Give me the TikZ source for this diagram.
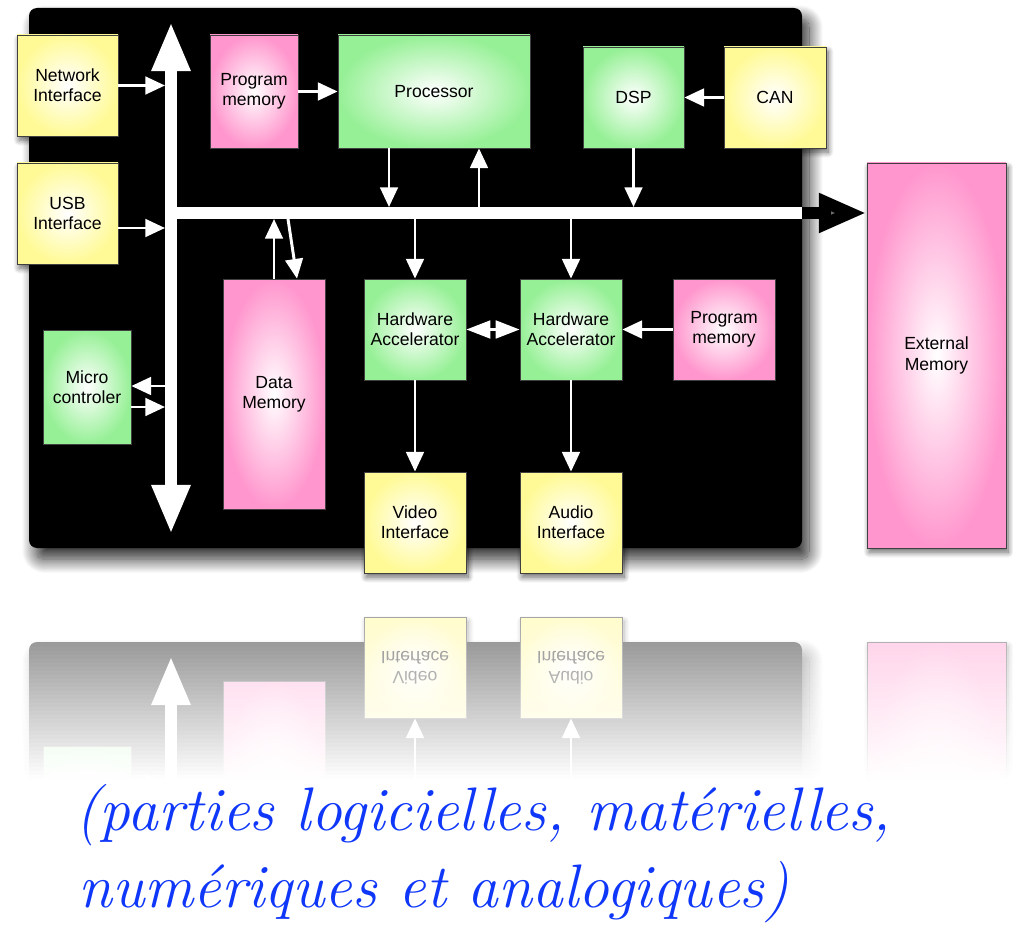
\documentclass[tikz,border=0pt]{standalone}
\usepackage{fontspec}
\usetikzlibrary{arrows.meta,shadows.blur}
\newfontfamily\boxfont{Liberation Sans}
\definecolor{boxgreen}{RGB}{150,240,150}
\definecolor{boxyellow}{RGB}{255,250,150}
\definecolor{boxpink}{RGB}{255,150,205}
\definecolor{inkblue}{RGB}{15,55,250}
\def\px{0.025cm}
\newif\iftoprow
\toprowtrue

\tikzset{
  unit/.style={draw=black!75, line width=0.5pt, align=center, inner sep=0pt,
    font=\boxfont\fontsize{12.5}{14.5}\selectfont,
    blur shadow={shadow xshift=1.5pt, shadow yshift=-3pt, shadow blur radius=4pt,
      shadow blur steps=10, shadow opacity=60}},
  sz/.style 2 args={minimum width=#1*\px, minimum height=#2*\px},
  logic/.style={unit, inner color=white, outer color=boxgreen},
  port/.style={unit, inner color=white, outer color=boxyellow},
  mem/.style={unit, inner color=white, outer color=boxpink},
  link/.style={draw=white, line width=2.1pt, -{Triangle[length=14pt,width=12.5pt]}},
  bus/.style={draw=white, line width=8.5pt},
  caption/.style={anchor=base west, inner sep=0pt, text=inkblue,
    font=\fontsize{43.7}{50}\selectfont\itshape},
}

% the whole board, drawn once upright and once as its mirror image
\newcommand\socboard{%
  \fill[rounded corners=5.7pt,
    blur shadow={shadow xshift=5pt, shadow yshift=-8pt, shadow blur radius=10pt,
      shadow blur steps=20, shadow opacity=85}]
    (29,8) rectangle (802,548);
  \coordinate (vtop) at (171,22);
  \coordinate (vbot) at (171,534);
  \coordinate (hleft) at (171,213);
  \coordinate (hend) at (802,213);
  \coordinate (hbt) at (0,207);
  \coordinate (hbb) at (0,219);
  \coordinate (vbl) at (165,0);
  % buses
  \draw[bus, {Triangle[length=35pt,width=25.6pt]}-{Triangle[length=35pt,width=25.6pt]}] (vtop) -- (vbot);
  \draw[bus] (hleft) -- (hend);
  % top row (left out of the mirror image, it falls off the page there)
  \iftoprow
  \node[port, sz={101}{101}] (netif) at (67.5,85.5) {Network\\Interface};
  \node[port, sz={101}{101}] (usbif) at (67.5,213.5) {USB\\Interface};
  \node[mem, sz={88}{113}] (progmem) at (254,91.5) {Program\\memory};
  \node[logic, sz={192}{113}] (cpu) at (434,91.5) {Processor};
  \node[logic, sz={101}{101}] (dsp) at (633.5,97.5) {DSP};
  \node[port, sz={102}{101}] (can) at (775,97.5) {CAN};
  \draw[link] (netif.east) -- (netif.east -| vbl);
  \draw[link] (usbif.east |- 0,228) -- (vbl |- 0,228);
  \draw[link] (progmem) -- (cpu);
  \draw[link] (can) -- (dsp);
  \draw[link] (389,0 |- cpu.south) -- (389,0 |- hbt);
  \draw[link] (479,0 |- hbt) -- (479,0 |- cpu.south);
  \draw[link] (dsp.south) -- (dsp.south |- hbt);
  \fi
  % lower blocks
  \node[logic, sz={88}{114}] (micro) at (87,387) {Micro\\controler};
  \node[mem, sz={102}{230}] (datamem) at (274,394) {Data\\Memory};
  \node[logic, sz={102}{101}] (hwa) at (415,329.5) {Hardware\\Accelerator};
  \node[logic, sz={102}{101}] (hwb) at (571,329.5) {Hardware\\Accelerator};
  \node[mem, sz={102}{101}] (accmem) at (724,329.5) {Program\\memory};
  \node[port, sz={102}{101}] (video) at (415,522.5) {Video\\Interface};
  \node[port, sz={102}{101}] (audio) at (571,522.5) {Audio\\Interface};
  \node[mem, sz={139}{385}] (extmem) at (936.5,355.5) {External\\Memory};
  \draw[line width=8.5pt, shorten >=30*\px] (hend) -- (hend -| extmem.west);
  \draw[line width=8.5pt, -{Triangle[length=34pt,width=26pt]}] (hend) -- (hend -| extmem.west);
  % links
  \draw[link] (vbl |- 0,386) -- (micro.east |- 0,386);
  \draw[link] (micro.east |- 0,407) -- (vbl |- 0,407);
  \draw[link] (datamem.north) -- (datamem.north |- hbb);
  \draw[link] (288,0 |- hbb) -- (297,0 |- datamem.north);
  \draw[link] (hwa.north |- hbb) -- (hwa.north);
  \draw[link] (hwb.north |- hbb) -- (hwb.north);
  \draw[link, {Triangle[length=17pt,width=12.5pt]}-{Triangle[length=17pt,width=12.5pt]}] (hwa) -- (hwb);
  \draw[link] (accmem) -- (hwb);
  \draw[link] (hwa) -- (video);
  \draw[link] (hwb) -- (audio);
}

\begin{document}
\begin{tikzpicture}[x=0.025cm, y=-0.025cm]
  \useasboundingbox (0,0) rectangle (1013,932);
  \socboard
  % reflection below the board, faded out with white bands
  \begin{scope}
    \clip (-10,592) rectangle (1023,780);
    \begin{scope}[shift={(0,1190)}, yscale=-1, transform shape]
      \toprowfalse
      \socboard
    \end{scope}
  \end{scope}
  \foreach \i in {0,...,45} {
    \pgfmathsetmacro\op{min(1,0.47+0.0116*\i)}
    \fill[white, opacity=\op] (-10,595+4*\i) rectangle (1023,599+4*\i);
  }
  \fill[white] (-10,779) rectangle (1023,932);
  % caption
  \node[caption] (capa) at (75,830) {(parties logicielles, matérielles,};
  \node[caption] (capb) at (78,907) {numériques et analogiques)};
\end{tikzpicture}
\end{document}
